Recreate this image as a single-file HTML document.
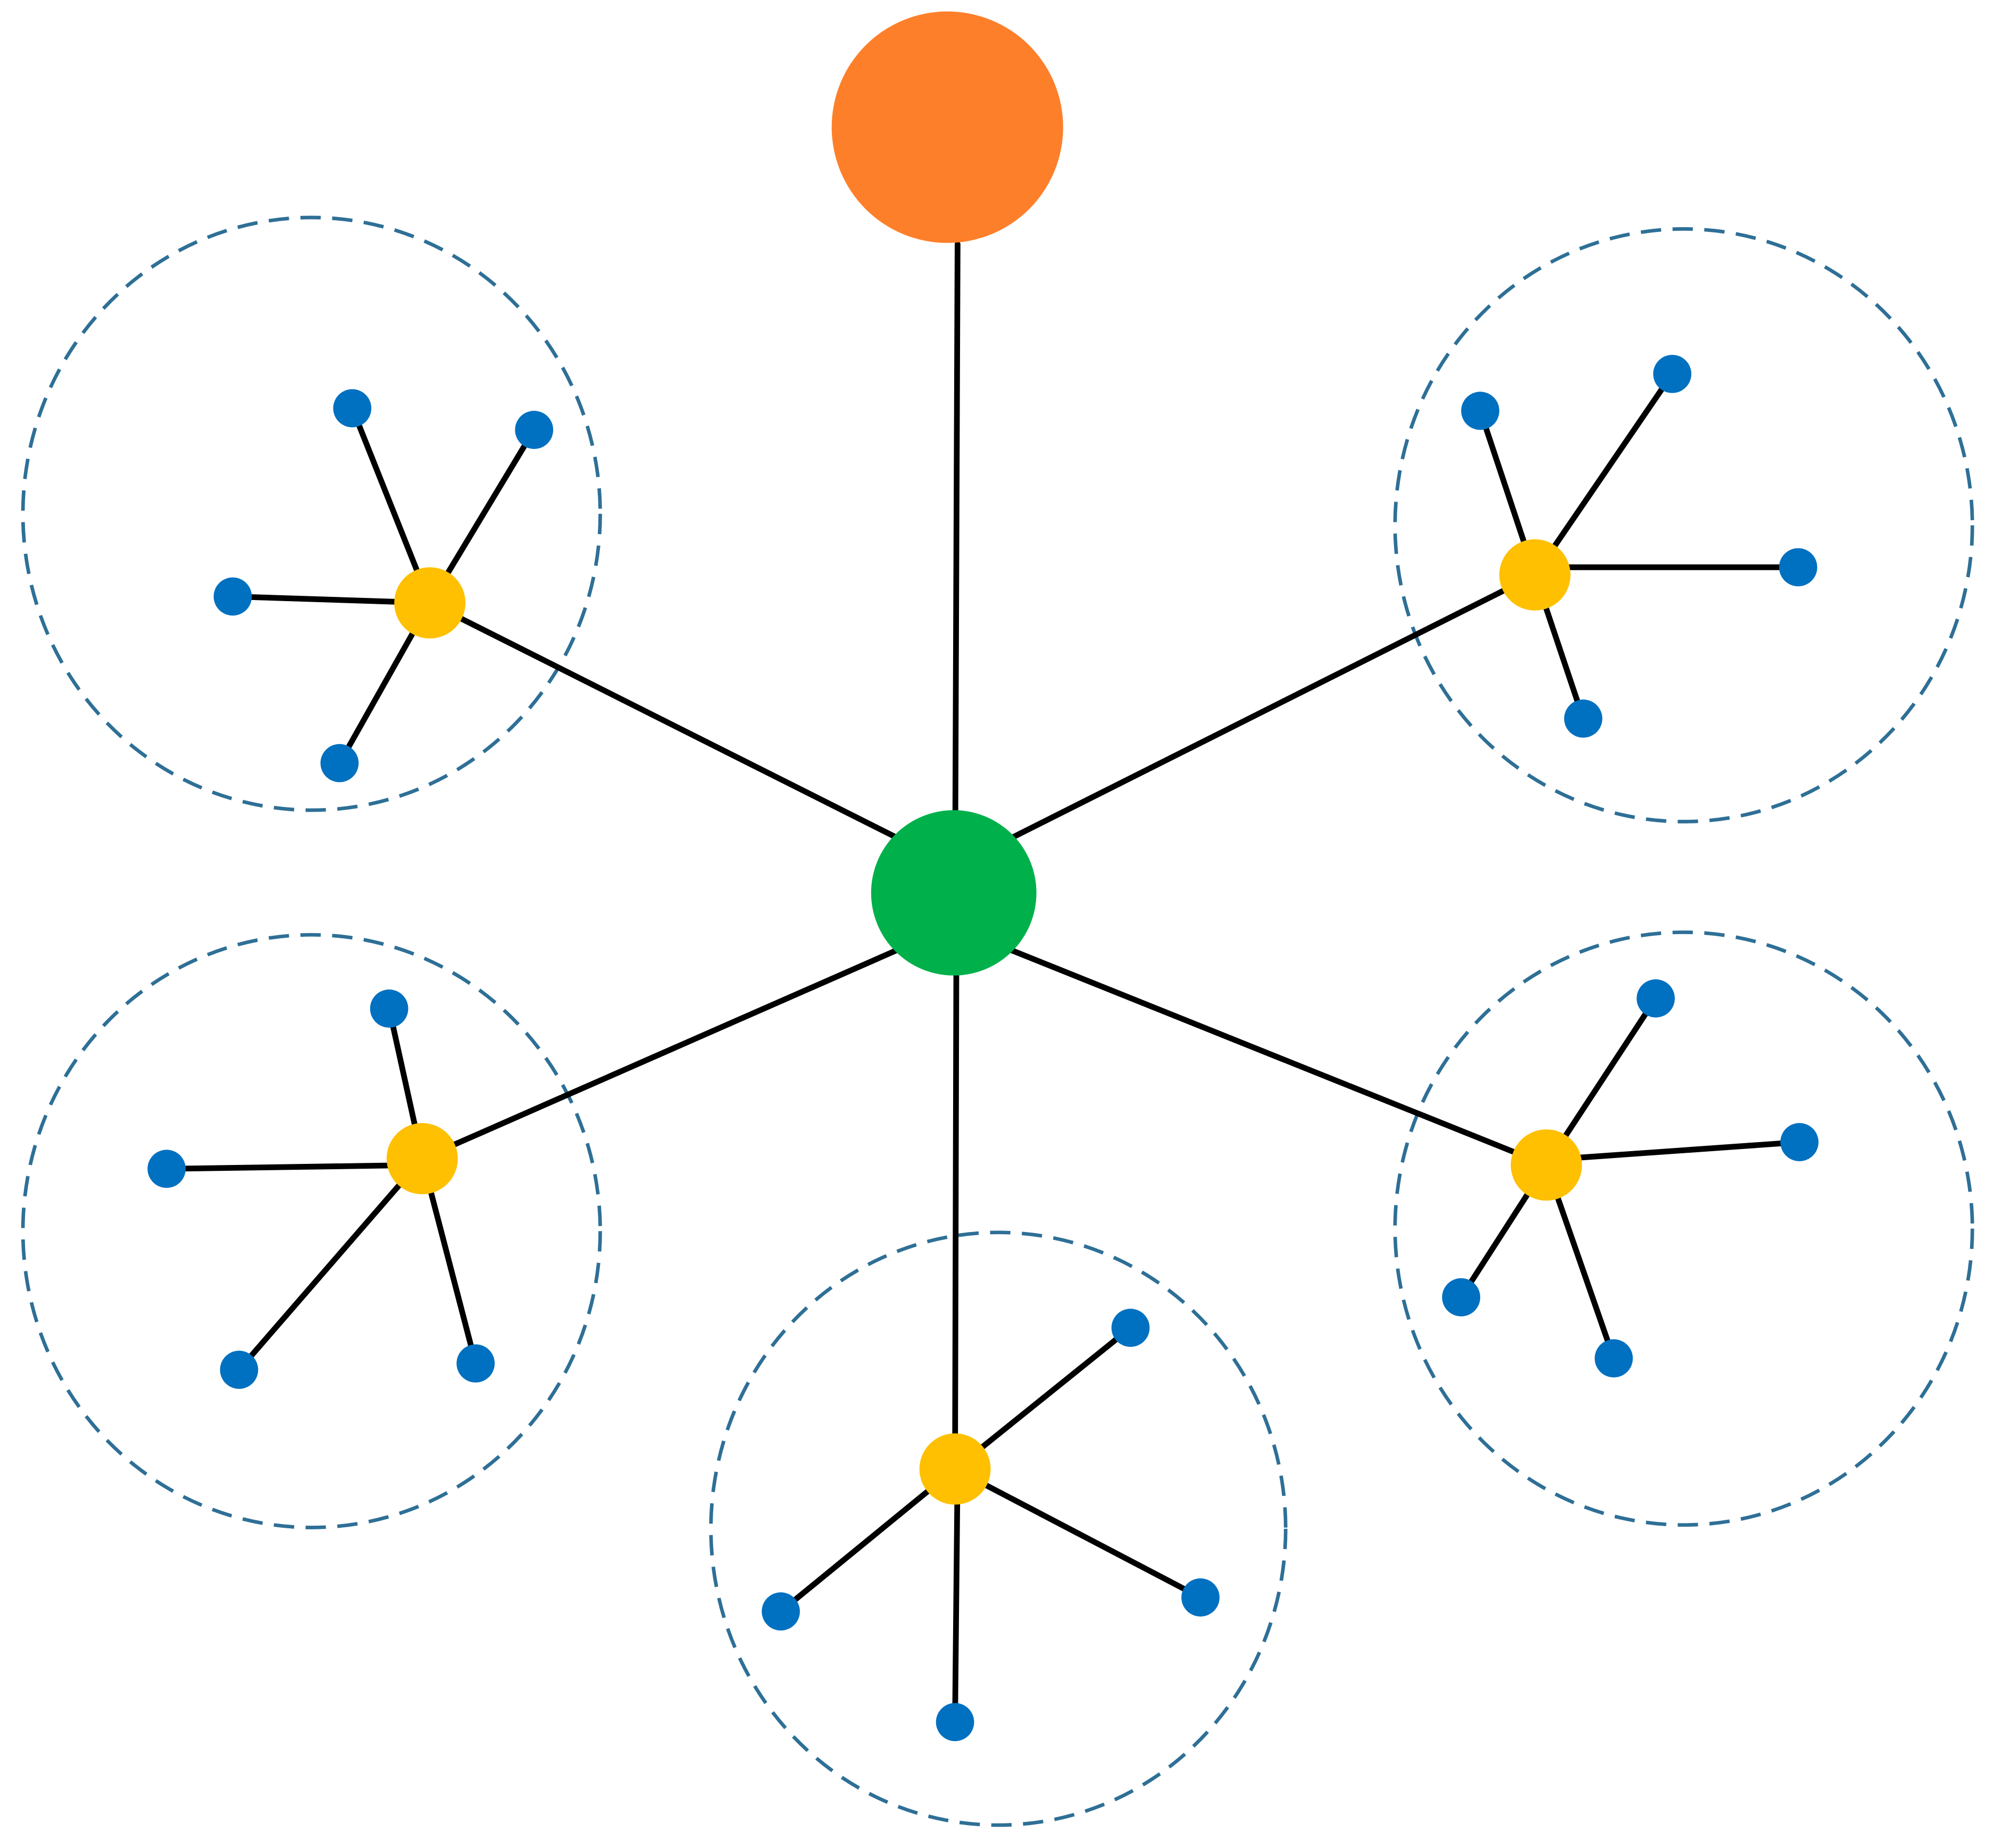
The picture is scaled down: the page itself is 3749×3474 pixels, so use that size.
<!DOCTYPE html>
<html><head><meta charset="utf-8"><style>html,body{margin:0;padding:0;background:#fff}svg{display:block}</style></head>
<body>
<svg width="3749" height="3474" viewBox="0 0 1568 1453" xmlns="http://www.w3.org/2000/svg">
<g fill="none" stroke="#2e6f96" stroke-width="2.8" stroke-dasharray="16 9">
<ellipse cx="245" cy="404" rx="227" ry="233"/>
<ellipse cx="1324" cy="413" rx="227" ry="233"/>
<ellipse cx="245" cy="968" rx="227" ry="233"/>
<ellipse cx="1324" cy="966" rx="227" ry="233"/>
<ellipse cx="785" cy="1202" rx="226" ry="233"/>
</g>
<g stroke="#000" stroke-width="4.5" stroke-linecap="round">
<line x1="753" y1="192" x2="751" y2="702"/>
<line x1="708" y1="660" x2="338" y2="474"/>
<line x1="797" y1="658" x2="1207" y2="452"/>
<line x1="710" y1="745" x2="332" y2="911"/>
<line x1="795" y1="747" x2="1216" y2="916"/>
<line x1="752" y1="767" x2="751" y2="1155"/>
<line x1="338" y1="474" x2="277" y2="321"/><line x1="338" y1="474" x2="420" y2="338"/><line x1="338" y1="474" x2="183" y2="469"/><line x1="338" y1="474" x2="267" y2="600"/>
<line x1="1207" y1="452" x2="1164" y2="323"/><line x1="1207" y1="452" x2="1315" y2="294"/><line x1="1207" y1="446" x2="1414" y2="446"/><line x1="1207" y1="452" x2="1245" y2="565"/>
<line x1="332" y1="911" x2="306" y2="793"/><line x1="332" y1="916" x2="131" y2="919"/><line x1="332" y1="911" x2="188" y2="1077"/><line x1="332" y1="911" x2="374" y2="1072"/>
<line x1="1216" y1="916" x2="1302" y2="785"/><line x1="1216" y1="912" x2="1415" y2="898"/><line x1="1216" y1="916" x2="1149" y2="1020"/><line x1="1216" y1="916" x2="1269" y2="1068"/>
<line x1="751" y1="1155" x2="889" y2="1044"/><line x1="751" y1="1155" x2="944" y2="1256"/><line x1="751" y1="1155" x2="614" y2="1267"/><line x1="753" y1="1155" x2="751" y2="1354"/>
</g>
<circle cx="745" cy="100" r="91" fill="#fe7f2a"/>
<circle cx="750" cy="702" r="65" fill="#00b04b"/>
<g fill="#fec000">
<circle cx="338" cy="474" r="28"/><circle cx="1207" cy="452" r="28"/><circle cx="332" cy="911" r="28"/><circle cx="1216" cy="916" r="28"/><circle cx="751" cy="1155" r="28"/>
</g>
<g fill="#0070c0">
<circle cx="277" cy="321" r="15"/><circle cx="420" cy="338" r="15"/><circle cx="183" cy="469" r="15"/><circle cx="267" cy="600" r="15"/>
<circle cx="1164" cy="323" r="15"/><circle cx="1315" cy="294" r="15"/><circle cx="1414" cy="446" r="15"/><circle cx="1245" cy="565" r="15"/>
<circle cx="306" cy="793" r="15"/><circle cx="131" cy="919" r="15"/><circle cx="188" cy="1077" r="15"/><circle cx="374" cy="1072" r="15"/>
<circle cx="1302" cy="785" r="15"/><circle cx="1415" cy="898" r="15"/><circle cx="1149" cy="1020" r="15"/><circle cx="1269" cy="1068" r="15"/>
<circle cx="889" cy="1044" r="15"/><circle cx="944" cy="1256" r="15"/><circle cx="614" cy="1267" r="15"/><circle cx="751" cy="1354" r="15"/>
</g>
</svg>
</body></html>
